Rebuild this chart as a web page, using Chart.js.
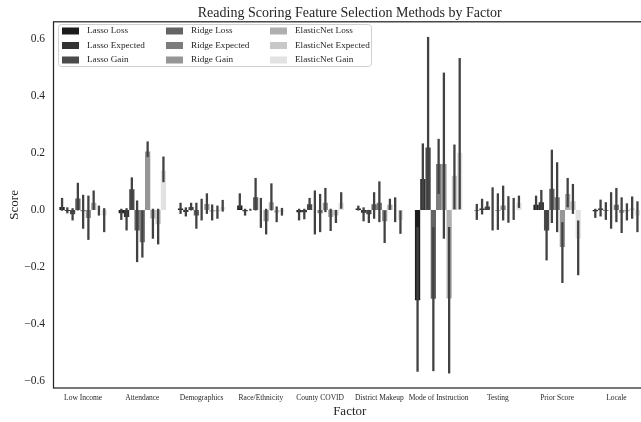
<!DOCTYPE html>
<html>
<head>
<meta charset="utf-8">
<title>Reading Scoring Feature Selection Methods by Factor</title>
<script src="https://cdn.jsdelivr.net/npm/chart.js@4.4.0/dist/chart.umd.min.js"></script>
<style>
  html, body { margin: 0; padding: 0; background: #fff; overflow: hidden; }
</style>
</head>
<body>
<canvas id="chart" width="648" height="422"></canvas>
<script>
// Factores no eixo x
const factors = ["Low Income", "Attendance", "Demographics", "Race/Ethnicity", "County COVID",
  "District Makeup", "Mode of Instruction", "Testing", "Prior Score", "Locale"];

// Métodos (ordem das barras em cada grupo)
const methods = ["Lasso Loss", "Lasso Expected", "Lasso Gain", "Ridge Loss", "Ridge Expected",
  "Ridge Gain", "ElasticNet Loss", "ElasticNet Expected", "ElasticNet Gain"];

// Média de cada método por fator
const lassoLoss      = [0.010, -0.012, 0.005, 0.015, -0.008, 0.005, -0.317, -0.002, 0.018, -0.005];
const lassoExpected  = [-0.004, -0.025, -0.007, -0.005, -0.008, -0.010, 0.108, 0.005, 0.027, 0.005];
const lassoGain      = [-0.015, 0.072, 0.010, 0.000, 0.020, -0.015, 0.219, 0.012, -0.072, -0.003];
const ridgeLoss      = [0.040, -0.072, -0.020, 0.044, 0.000, 0.020, -0.311, 0.000, 0.074, 0.000];
const ridgeExpected  = [-0.005, -0.113, 0.000, 0.000, -0.012, 0.025, 0.161, -0.003, 0.044, 0.018];
const ridgeGain      = [-0.028, 0.205, 0.021, -0.040, 0.025, -0.040, 0.161, 0.015, -0.130, -0.010];
const enetLoss       = [0.025, -0.030, -0.006, 0.027, -0.025, 0.018, -0.310, 0.000, 0.056, -0.005];
const enetExpected   = [0.000, -0.050, -0.005, -0.010, -0.020, 0.000, 0.120, 0.000, 0.030, 0.005];
const enetGain       = [-0.020, 0.138, 0.010, -0.005, 0.025, -0.035, 0.200, 0.025, -0.100, -0.020];

// Intervalos de confiança (limite inferior / superior)
const lassoLossLo     = [-0.003, -0.035, -0.014, 0.004, -0.037, -0.002, -0.567, -0.035, 0.000, -0.028];
const lassoLossHi     = [0.042, 0.004, 0.025, 0.058, 0.004, 0.015, -0.060, 0.021, 0.050, 0.004];
const lassoExpectedLo = [-0.012, -0.072, -0.023, -0.020, -0.033, -0.040, 0.002, -0.016, 0.000, -0.023];
const lassoExpectedHi = [0.009, 0.006, 0.009, 0.004, 0.004, 0.009, 0.233, 0.039, 0.070, 0.036];
const lassoGainLo     = [-0.037, 0.004, -0.002, -0.003, 0.000, -0.046, 0.002, 0.000, -0.177, -0.035];
const lassoGainHi     = [0.006, 0.114, 0.025, 0.004, 0.042, 0.000, 0.606, 0.030, -0.005, 0.027];
const ridgeLossLo     = [-0.002, -0.183, -0.066, -0.002, -0.086, -0.031, -0.565, -0.072, -0.046, -0.066];
const ridgeLossHi     = [0.095, 0.033, 0.025, 0.112, 0.068, 0.062, -0.060, 0.079, 0.211, 0.062];
const ridgeExpectedLo = [-0.066, -0.167, -0.037, -0.063, -0.078, -0.043, 0.056, -0.070, -0.078, -0.043];
const ridgeExpectedHi = [0.053, -0.002, 0.039, 0.042, 0.056, 0.100, 0.249, 0.058, 0.167, 0.077];
const ridgeGainLo     = [-0.105, 0.185, -0.014, -0.086, -0.008, -0.116, -0.101, -0.037, -0.256, -0.081];
const ridgeGainHi     = [0.050, 0.240, 0.058, 0.004, 0.077, -0.002, 0.481, 0.085, -0.043, 0.044];
const enetLossLo      = [0.000, -0.101, -0.037, -0.002, -0.074, 0.000, -0.573, -0.045, 0.009, -0.037];
const enetLossHi      = [0.068, 0.004, 0.019, 0.093, 0.004, 0.039, -0.060, 0.048, 0.112, 0.023];
const enetExpectedLo  = [-0.020, -0.121, -0.031, -0.043, -0.046, -0.043, 0.002, -0.035, -0.014, -0.031];
const enetExpectedHi  = [0.015, 0.004, 0.015, 0.012, 0.000, 0.044, 0.229, 0.042, 0.091, 0.047];
const enetGainLo      = [-0.078, 0.097, -0.006, -0.020, 0.004, -0.084, 0.002, 0.007, -0.229, -0.078];
const enetGainHi      = [0.006, 0.187, 0.035, 0.007, 0.062, -0.002, 0.532, 0.050, -0.037, 0.030];

// Ticks do eixo y
const yTickValues = [0.6, 0.4, 0.2, 0.0, -0.2, -0.4, -0.6];
const yTickLabels = ["0.6", "0.4", "0.2", "0.0", "\u22120.2", "\u22120.4", "\u22120.6"];

// Tons de cinza de cada método
const greys = ["#1c1c1c", "#333333", "#4b4b4b", "#646464", "#7c7c7c", "#969696", "#afafaf", "#c8c8c8", "#e2e2e2"];

const FONT = "'Liberation Serif', 'Times New Roman', serif";

const seriesMeans = [lassoLoss, lassoExpected, lassoGain, ridgeLoss, ridgeExpected, ridgeGain, enetLoss, enetExpected, enetGain];
const seriesLo = [lassoLossLo, lassoExpectedLo, lassoGainLo, ridgeLossLo, ridgeExpectedLo, ridgeGainLo, enetLossLo, enetExpectedLo, enetGainLo];
const seriesHi = [lassoLossHi, lassoExpectedHi, lassoGainHi, ridgeLossHi, ridgeExpectedHi, ridgeGainHi, enetLossHi, enetExpectedHi, enetGainHi];

const datasets = methods.map((name, k) => ({
  label: name,
  data: seriesMeans[k],
  ciLow: seriesLo[k],
  ciHigh: seriesHi[k],
  backgroundColor: greys[k],
  borderWidth: 0,
  categoryPercentage: 0.8,
  barPercentage: 1.0
}));

// Barras de erro (linha vertical do IC)
const errorBars = {
  id: "errorBars",
  afterDatasetsDraw(chart) {
    const { ctx, scales: { y } } = chart;
    ctx.save();
    ctx.strokeStyle = "#424242";
    ctx.lineWidth = 2.3;
    chart.data.datasets.forEach((ds, d) => {
      chart.getDatasetMeta(d).data.forEach((bar, i) => {
        ctx.beginPath();
        ctx.moveTo(bar.x, y.getPixelForValue(ds.ciLow[i]));
        ctx.lineTo(bar.x, y.getPixelForValue(ds.ciHigh[i]));
        ctx.stroke();
      });
    });
    ctx.restore();
  }
};

// Moldura do gráfico + legenda em 3 colunas
const frameAndLegend = {
  id: "frameAndLegend",
  afterDraw(chart) {
    const { ctx, chartArea: a } = chart;
    ctx.save();
    ctx.strokeStyle = "#262626";
    ctx.lineWidth = 1.25;
    ctx.strokeRect(a.left, a.top, a.right - a.left, a.bottom - a.top);

    // caixa da legenda
    const bx = 58.5, by = 24.5, bw = 313, bh = 42, r = 3;
    ctx.beginPath();
    ctx.moveTo(bx + r, by);
    ctx.arcTo(bx + bw, by, bx + bw, by + bh, r);
    ctx.arcTo(bx + bw, by + bh, bx, by + bh, r);
    ctx.arcTo(bx, by + bh, bx, by, r);
    ctx.arcTo(bx, by, bx + bw, by, r);
    ctx.closePath();
    ctx.fillStyle = "rgba(255,255,255,0.85)";
    ctx.fill();
    ctx.strokeStyle = "#d0d0d0";
    ctx.lineWidth = 1;
    ctx.stroke();

    ctx.font = "9.2px " + FONT;
    ctx.textBaseline = "middle";
    ctx.textAlign = "left";
    chart.data.datasets.forEach((ds, k) => {
      const col = Math.floor(k / 3), row = k % 3;
      const yy = 31 + row * 14.5;
      const x0 = 62 + col * 104;
      ctx.fillStyle = ds.backgroundColor;
      ctx.fillRect(x0, yy - 3.5, 17, 7);
      ctx.fillStyle = "#262626";
      ctx.fillText(ds.label, x0 + 25, yy);
    });
    ctx.restore();
  }
};

new Chart(document.getElementById("chart"), {
  type: "bar",
  data: { labels: factors, datasets: datasets },
  options: {
    responsive: false,
    animation: false,
    layout: { padding: { left: 0, right: 2, top: 0, bottom: 0 } },
    plugins: {
      legend: { display: false },
      tooltip: { enabled: false },
      title: {
        display: true,
        fullSize: false,
        text: "Reading Scoring Feature Selection Methods by Factor",
        color: "#262626",
        font: { family: FONT, size: 14, weight: "normal" },
        padding: { top: 5, bottom: 0 }
      }
    },
    scales: {
      x: {
        grid: { display: false, drawTicks: false },
        border: { display: false },
        ticks: {
          color: "#262626",
          font: { family: FONT, size: 7.5 },
          padding: 6,
          maxRotation: 0,
          autoSkip: false
        },
        title: {
          display: true,
          text: "Factor",
          color: "#262626",
          font: { family: FONT, size: 13 },
          padding: { top: 0, bottom: 3 }
        },
        afterFit(scale) { scale.height = 34; }
      },
      y: {
        min: -0.624,
        max: 0.659,
        grid: { display: false, drawTicks: false },
        border: { display: false },
        afterBuildTicks(scale) { scale.ticks = yTickValues.map(v => ({ value: v })); },
        ticks: {
          color: "#262626",
          font: { family: FONT, size: 11.5 },
          padding: 8.5,
          callback: (val, idx) => yTickLabels[idx]
        },
        title: {
          display: true,
          text: "Score",
          color: "#262626",
          font: { family: FONT, size: 13 },
          padding: { top: 7, bottom: 0 }
        },
        afterFit(scale) { scale.width = 53.5; }
      }
    }
  },
  plugins: [errorBars, frameAndLegend]
});
</script>
</body>
</html>
